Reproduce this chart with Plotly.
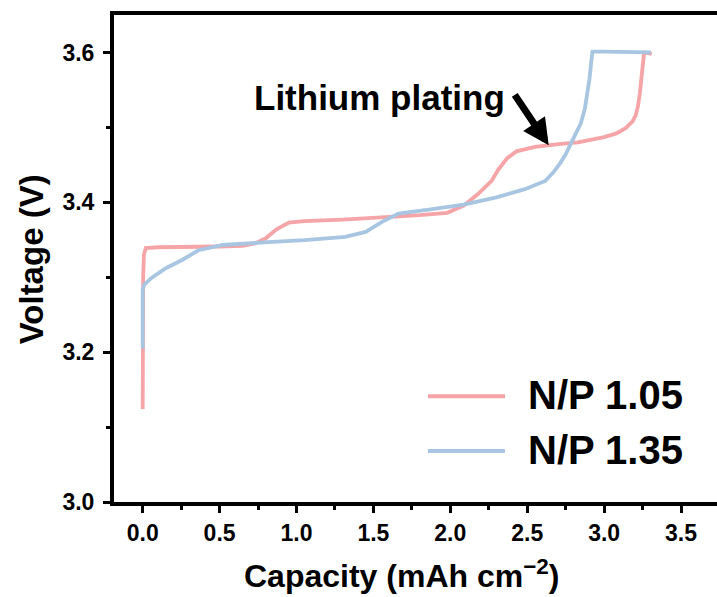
import plotly.graph_objects as go

# ---- data ----
np105_cap = [0, 0, 0.003, 0.008, 0.02, 0.1, 0.3, 0.5, 0.65, 0.73, 0.8, 0.87, 0.95, 1.05,
             1.3, 1.6, 1.8, 1.98, 2.09, 2.18, 2.27, 2.31, 2.37, 2.43, 2.5, 2.55, 2.72,
             2.83, 3.0, 3.08, 3.14, 3.185, 3.205, 3.22, 3.232, 3.242, 3.25, 3.26, 3.31]
np105_volt = [3.124, 3.25, 3.30, 3.33, 3.339, 3.34, 3.34, 3.341, 3.342, 3.345, 3.352, 3.364,
              3.373, 3.375, 3.377, 3.380, 3.383, 3.386, 3.396, 3.411, 3.429, 3.443, 3.459,
              3.468, 3.472, 3.474, 3.478, 3.480, 3.487, 3.492, 3.499, 3.508, 3.516, 3.528,
              3.545, 3.565, 3.59, 3.60, 3.598]

np135_cap = [0, 0, 0.01, 0.057, 0.15, 0.256, 0.362, 0.52, 0.787, 1.052, 1.317, 1.45, 1.556,
             1.663, 1.848, 2.087, 2.3, 2.485, 2.617, 2.67, 2.717, 2.75, 2.783, 2.82, 2.848,
             2.875, 2.891, 2.905, 2.915, 2.924, 3.0, 3.15, 3.304]
np135_volt = [3.205, 3.284, 3.29, 3.299, 3.312, 3.323, 3.336, 3.343, 3.3465, 3.3496, 3.354,
              3.3605, 3.374, 3.385, 3.390, 3.397, 3.4066, 3.4175, 3.4285, 3.44, 3.453, 3.464,
              3.478, 3.492, 3.505, 3.525, 3.543, 3.565, 3.585, 3.601, 3.601, 3.600, 3.600]

series_names = ["N/P 1.05", "N/P 1.35"]
series_colors = ["#F5A4A7", "#A8C5E1"]
x_ticks = [0.0, 0.5, 1.0, 1.5, 2.0, 2.5, 3.0, 3.5]
y_ticks = [3.0, 3.2, 3.4, 3.6]

FONT = "Liberation Sans, Arial, sans-serif"

fig = go.Figure()
fig.add_trace(go.Scatter(x=np105_cap, y=np105_volt, mode="lines", name=series_names[0],
                         line=dict(color=series_colors[0], width=3.8)))
fig.add_trace(go.Scatter(x=np135_cap, y=np135_volt, mode="lines", name=series_names[1],
                         line=dict(color=series_colors[1], width=3.8)))

axis_common = dict(showline=True, linecolor="black", linewidth=4, ticks="outside",
                   ticklen=7, tickwidth=3, tickcolor="black", showgrid=False, zeroline=False,
                   tickfont=dict(family=FONT, size=23, color="black", weight="bold"))

fig.update_xaxes(range=[-0.1866, 3.734], tickvals=x_ticks,
                 ticktext=[f"{v:.1f}" for v in x_ticks], mirror=True,
                 minor=dict(tickvals=[0.25, 0.75, 1.25, 1.75, 2.25, 2.75, 3.25, 3.75],
                            ticks="outside", ticklen=4, tickwidth=3, tickcolor="black"),
                 ticklabelstandoff=0, **axis_common)
fig.update_yaxes(range=[3.0, 3.65], tickvals=y_ticks,
                 ticktext=[f"{v:.1f}" for v in y_ticks], mirror=False,
                 minor=dict(tickvals=[3.1, 3.3, 3.5], ticks="outside", ticklen=4,
                            tickwidth=3, tickcolor="black"),
                 ticklabelstandoff=4, **axis_common)

annotations = [
    dict(text="Capacity (mAh cm<sup>−2</sup>)", x=0.4776, y=-0.1477, xref="paper", yref="paper",
         showarrow=False, xanchor="center", yanchor="middle",
         font=dict(family=FONT, size=32, color="black", weight="bold")),
    dict(text="Voltage (V)", x=-0.1376, y=0.4985, xref="paper", yref="paper", textangle=-90,
         showarrow=False, xanchor="center", yanchor="middle",
         font=dict(family=FONT, size=33, color="black", weight="bold")),
    dict(text="Lithium plating", x=0.4406, y=0.831, xref="paper", yref="paper",
         showarrow=False, xanchor="center", yanchor="middle",
         font=dict(family=FONT, size=35, color="black", weight="bold")),
    dict(text="", x=2.64, y=3.476, xref="x", yref="y", showarrow=True, ax=-35, ay=-52,
         arrowhead=2, arrowwidth=7, arrowsize=0.75, arrowcolor="black", standoff=0),
]

# custom legend (long line samples like the reference)
leg_y = [0.2174, 0.1046]
shapes = []
for name, color, ly in zip(series_names, series_colors, leg_y):
    shapes.append(dict(type="line", xref="paper", yref="paper", x0=0.5207, x1=0.6484,
                       y0=ly, y1=ly, line=dict(color=color, width=4)))
    annotations.append(dict(text=name, x=0.6833, y=ly + 0.002, xref="paper", yref="paper",
                            showarrow=False, xanchor="left", yanchor="middle",
                            font=dict(family=FONT, size=40, color="black", weight="bold")))

fig.update_layout(width=717, height=597, margin=dict(l=114, r=0, t=14.5, b=95),
                  paper_bgcolor="white", plot_bgcolor="white", showlegend=False,
                  annotations=annotations, shapes=shapes)

fig.write_html("out.html")
